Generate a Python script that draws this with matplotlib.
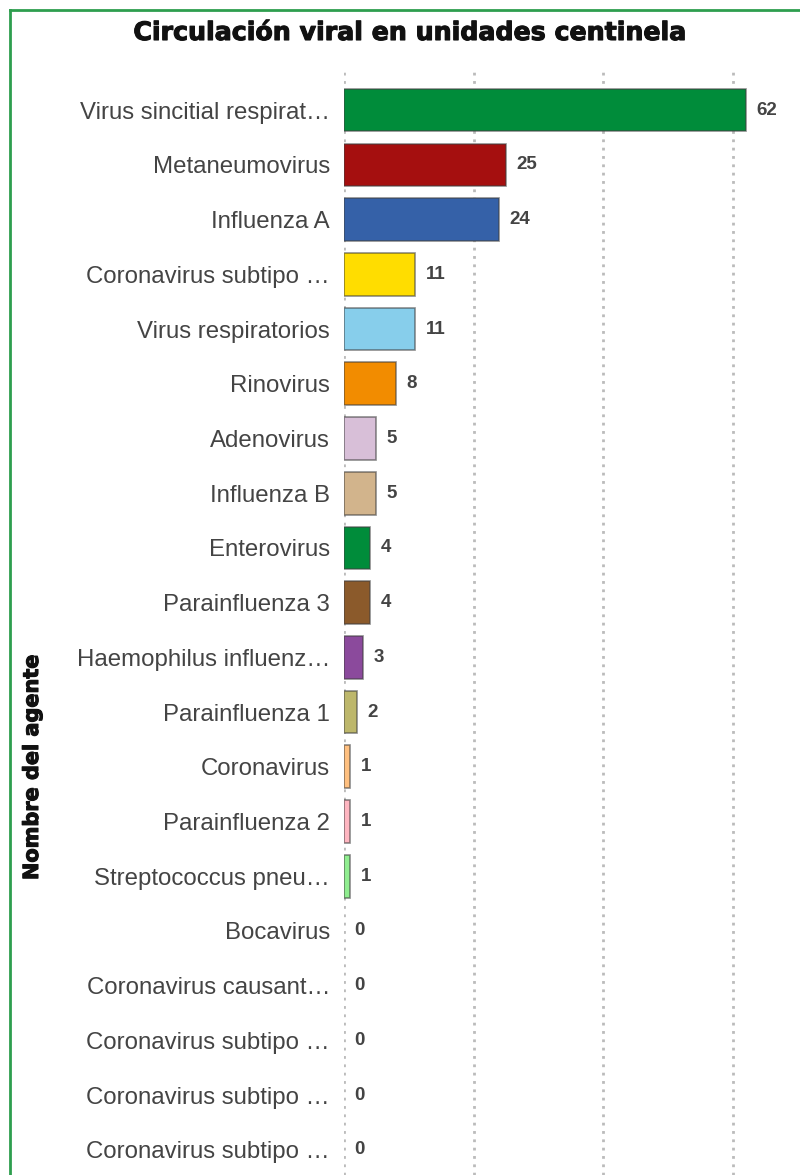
import matplotlib
matplotlib.use("Agg")
import matplotlib.pyplot as plt
import matplotlib.patheffects as pe
from matplotlib.lines import Line2D

# data
agentes = [
    "Virus sincitial respirat…", "Metaneumovirus", "Influenza A",
    "Coronavirus subtipo …", "Virus respiratorios", "Rinovirus",
    "Adenovirus", "Influenza B", "Enterovirus", "Parainfluenza 3",
    "Haemophilus influenz…", "Parainfluenza 1", "Coronavirus",
    "Parainfluenza 2", "Streptococcus pneu…", "Bocavirus",
    "Coronavirus causant…", "Coronavirus subtipo …",
    "Coronavirus subtipo …", "Coronavirus subtipo …",
]
casos = [62, 25, 24, 11, 11, 8, 5, 5, 4, 4, 3, 2, 1, 1, 1, 0, 0, 0, 0, 0]
colores = [
    "#008C3A", "#A50F0F", "#3561A8", "#FFDD00", "#87CEEB", "#F28C00",
    "#D8BFD8", "#D2B48C", "#008C3A", "#8B5A2B", "#8B4A9C", "#BDB76B",
    "#FFC080", "#FFB6C1", "#90EE90", "#cccccc", "#cccccc", "#cccccc",
    "#cccccc", "#cccccc",
]
ticks_x = [0, 20, 40, 60]

W, H = 800, 1175
fig = plt.figure(figsize=(W / 100, H / 100), dpi=100)

# plot area: x from 344px to right edge, top at 68px, runs past the bottom
ax = fig.add_axes([344 / W, 0, (W - 344) / W, (H - 68) / H])

pos = list(range(len(agentes)))
bordes = [1.2 if v > 0 else 0 for v in casos]
ax.barh(pos, casos, height=0.78, color=colores,
        edgecolor=(0.25, 0.25, 0.25, 0.6), linewidth=bordes, zorder=3)

ax.set_ylim(19.46, -0.77)
ax.set_xlim(0, 70.4)
ax.set_xticks(ticks_x)
ax.xaxis.grid(True, linestyle=(0, (1, 2)), color="#bbbbbb", linewidth=2, zorder=0)
ax.tick_params(axis="x", which="both", bottom=False, labelbottom=False)
for s in ax.spines.values():
    s.set_visible(False)

ax.set_yticks(pos)
ax.set_yticklabels(agentes, fontsize=17.3, color="#444444", family="Liberation Sans")
ax.tick_params(axis="y", length=0, pad=10)

for p, v in zip(pos, casos):
    ax.text(v + 1.6, p, str(v), va="center", ha="left", fontsize=13.5,
            fontweight="bold", color="#444444", family="Liberation Sans")

grueso = [pe.withStroke(linewidth=0.8, foreground="#111111")]
fig.text(410 / W, 1 - 33 / H, "Circulación viral en unidades centinela",
         ha="center", va="center", fontsize=18.2, fontweight="heavy",
         color="#111111", family="DejaVu Sans", path_effects=grueso)
fig.text(32 / W, 1 - 767 / H, "Nombre del agente", rotation=90,
         ha="center", va="center", fontsize=15, fontweight="heavy",
         color="#111111", family="DejaVu Sans", path_effects=grueso)

# green frame, cut at right and bottom like the screenshot
borde = "#2E9E4E"
fig.add_artist(Line2D([10 / W, 10 / W], [0, 1 - 10 / H], color=borde,
                      linewidth=2, transform=fig.transFigure))
fig.add_artist(Line2D([10 / W, 1], [1 - 10 / H, 1 - 10 / H], color=borde,
                      linewidth=2, transform=fig.transFigure))

fig.savefig("out.png", dpi=100)
